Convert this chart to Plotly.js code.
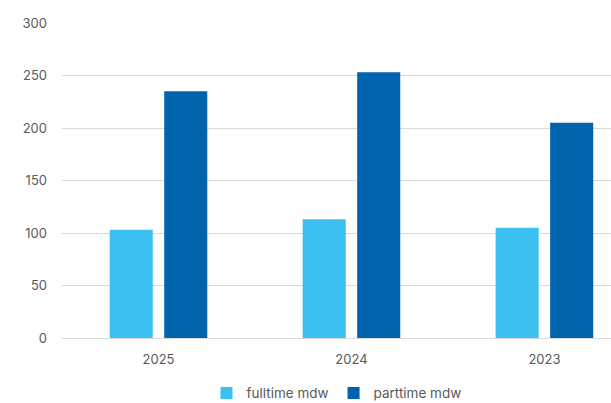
<!DOCTYPE html>
<html>
<head>
<meta charset="utf-8">
<script src="https://cdn.plot.ly/plotly-3.0.1.min.js"></script>
<style>html,body{margin:0;padding:0;background:#fff;}#chart{width:611px;height:403px;}</style>
</head>
<body>
<div id="chart"></div>
<script>
const categories = ["2025", "2024", "2023"];
const fulltime = [103, 113, 105];
const parttime = [235, 253, 205];
const seriesNames = ["fulltime mdw", "parttime mdw"];
const yTicks = [0, 50, 100, 150, 200, 250, 300];

const data = [
  {type: "bar", name: seriesNames[0], x: categories, y: fulltime,
   marker: {color: "#3BC0F0", line: {width: 0}}},
  {type: "bar", name: seriesNames[1], x: categories, y: parttime,
   marker: {color: "#0063AD", line: {width: 0}}}
];

const layout = {
  width: 611, height: 403,
  margin: {l: 62, r: 0, t: 22.7, b: 65.3, pad: 0, autoexpand: false},
  paper_bgcolor: "#ffffff", plot_bgcolor: "#ffffff",
  font: {family: "Inter, 'Open Sans', sans-serif", size: 13, color: "#595959"},
  barmode: "group",
  bargap: 0.435,
  bargroupgap: 0.21,
  showlegend: true,
  legend: {orientation: "h", x: 0.5, xanchor: "center", y: -0.175, yanchor: "middle",
           font: {size: 13.5, color: "#595959"}, itemwidth: 30, traceorder: "normal"},
  xaxis: {type: "category", range: [-0.5, 2.345], showgrid: false, zeroline: false,
          showline: false, ticks: "", ticklabelstandoff: 12, fixedrange: true},
  yaxis: {range: [0, 300], tickvals: yTicks, ticktext: yTicks.map(String),
          showgrid: true, gridcolor: "#d9d9d9", gridwidth: 1, zeroline: true,
          zerolinecolor: "#d9d9d9", zerolinewidth: 1, showline: false, ticks: "",
          ticklabelstandoff: 14}
};

Plotly.newPlot("chart", data, layout, {displayModeBar: false, staticPlot: true});
</script>
</body>
</html>
